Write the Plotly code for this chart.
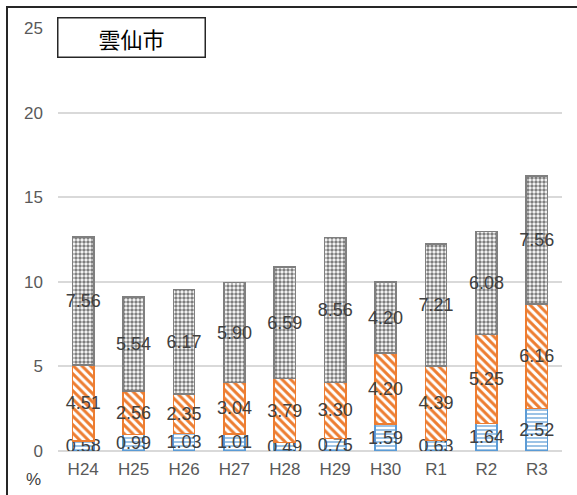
import plotly.graph_objects as go

# Fiscal years on the category axis
years = ["H24", "H25", "H26", "H27", "H28", "H29", "H30", "R1", "R2", "R3"]

# Stacked components (%), bottom to top
blue_vals = [0.58, 0.99, 1.03, 1.01, 0.49, 0.75, 1.59, 0.63, 1.64, 2.52]
orange_vals = [4.51, 2.56, 2.35, 3.04, 3.79, 3.30, 4.20, 4.39, 5.25, 6.16]
gray_vals = [7.56, 5.54, 6.17, 5.90, 6.59, 8.56, 4.20, 7.21, 6.08, 7.56]

y_ticks = [0, 5, 10, 15, 20, 25]

BLUE = "#5B9BD5"
ORANGE = "#ED7D31"
GRAY = "#7F7F7F"
TEXT = "#404040"
FONT = "Liberation Sans, Arial, sans-serif"


def stack(vals, color, shape, size, solidity):
    return go.Bar(
        x=years,
        y=vals,
        text=[f"{v:.2f}" for v in vals],
        textposition="inside",
        insidetextanchor="middle",
        textangle=0,
        constraintext="none",
        insidetextfont=dict(family=FONT, size=18, color=TEXT),
        marker=dict(
            color="white",
            line=dict(color=color, width=1.5),
            pattern=dict(shape=shape, fgcolor=color, bgcolor="white",
                         size=size, solidity=solidity, fillmode="replace"),
        ),
        showlegend=False,
        hoverinfo="skip",
    )


fig = go.Figure()
fig.add_trace(stack(blue_vals, BLUE, "-", 4, 0.3))
fig.add_trace(stack(orange_vals, ORANGE, "\\", 6, 0.5))
fig.add_trace(stack(gray_vals, GRAY, ".", 4, 0.6))

fig.update_layout(
    width=577,
    height=495,
    margin=dict(l=58, r=15, t=28, b=44),
    barmode="stack",
    bargap=0.58,
    plot_bgcolor="white",
    paper_bgcolor="white",
    font=dict(family=FONT, color="#595959"),
    xaxis=dict(
        showgrid=False,
        showline=False,
        ticks="",
        tickfont=dict(size=17, color="#595959"),
        ticklabelstandoff=6,
    ),
    yaxis=dict(
        range=[0, 25],
        tickvals=y_ticks,
        showgrid=True,
        gridcolor="#D9D9D9",
        gridwidth=1.5,
        zeroline=True,
        zerolinecolor="#D9D9D9",
        zerolinewidth=1.5,
        showline=False,
        ticks="",
        tickfont=dict(size=17, color="#595959"),
        ticklabelstandoff=14,
    ),
    shapes=[
        # chart frame
        dict(type="rect", xref="paper", yref="paper",
             x0=(7 - 58) / 504, x1=1.2, y0=-0.3, y1=(451 - 7) / 423,
             line=dict(color="#262626", width=2), fillcolor="rgba(0,0,0,0)",
             layer="above"),
    ],
    annotations=[
        dict(text="雲仙市", xref="paper", yref="paper",
             x=(131 - 58) / 504, y=(451 - 37) / 423,
             xanchor="center", yanchor="middle", showarrow=False,
             font=dict(family="Noto Sans CJK JP", size=22, color="black"),
             bordercolor="#262626", borderwidth=1.5, borderpad=0,
             bgcolor="white", width=146, height=38),
        dict(text="%", xref="paper", yref="paper",
             x=(33 - 58) / 504, y=(451 - 479) / 423,
             xanchor="center", yanchor="middle", showarrow=False,
             font=dict(family=FONT, size=17, color="#404040")),
    ],
)

fig.write_html("out.html")
